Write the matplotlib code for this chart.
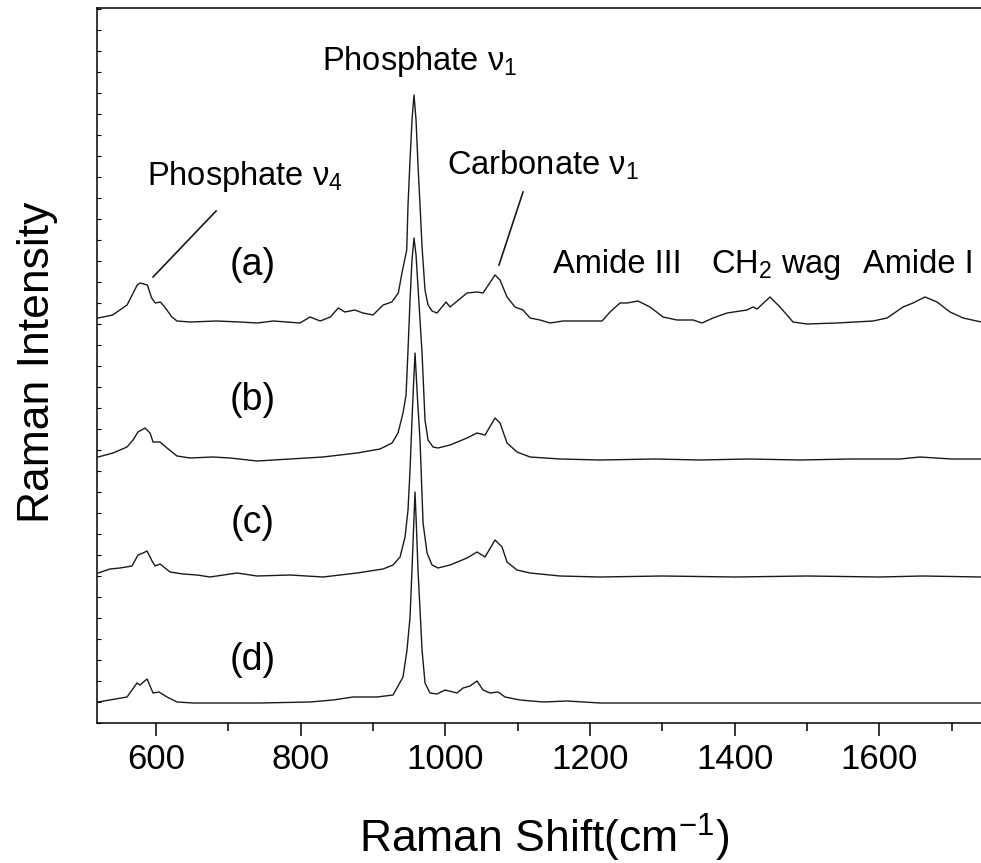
import matplotlib
matplotlib.use("Agg")
import matplotlib.pyplot as plt
from matplotlib.ticker import MultipleLocator

plt.rcParams['font.family'] = ['Liberation Sans', 'DejaVu Sans']
plt.rcParams['mathtext.fontset'] = 'custom'
plt.rcParams['mathtext.rm'] = 'Liberation Sans'
plt.rcParams['mathtext.it'] = 'Liberation Sans:italic'
plt.rcParams['mathtext.default'] = 'regular'

# ---------------- data ----------------
a_wn = [520, 540, 560, 574, 578, 588, 594, 599, 606, 612, 622, 629, 647, 684, 716, 740, 762, 799, 813, 827,
        841, 852, 861, 875, 886, 900, 914, 926, 935, 940, 946.6, 948.4, 951.2, 953.9, 956.7, 959.5, 962.2, 965.0,
        967.8, 971.9, 976.1, 981.6, 988.5, 1001, 1006.5, 1030, 1043.8, 1052.1, 1068.7, 1075.6, 1085.3, 1096.3,
        1107.4, 1117.1, 1130.9, 1144.7, 1162.7, 1195.9, 1216.6, 1227.7, 1241.5, 1251.2, 1266.4, 1283.0, 1301.0,
        1320.3, 1342.5, 1354.9, 1370.1, 1389.5, 1417.1, 1425.4, 1431.0, 1448.9, 1462.7, 1480.7, 1500.1, 1541.5,
        1591.3, 1610.7, 1632.8, 1646.6, 1663.2, 1679.8, 1697.8, 1715.8, 1741]
a_int = [5, 8, 18, 38, 40, 38, 25, 20, 21, 16, 6, 2, 1, 2, 1, 0, 2, 0, 6, 2,
         6, 15, 11, 13, 10, 8, 18, 21, 30, 50, 73, 118, 163, 203, 228, 203, 158, 118,
         76, 33, 18, 12, 10, 21, 16, 30, 31, 30, 48, 43, 26, 16,
         13, 5, 3, 0, 2, 2, 2, 11, 20, 20, 22, 16, 6,
         3, 3, 0, 5, 10, 13, 16, 14, 26, 16, 1, -1, 0,
         2, 5, 16, 20, 26, 21, 11, 5, 1]

b_wn = [520, 540.5, 559.9, 568.2, 575.1, 584.8, 591.7, 595.9, 605.5, 615.2, 629, 647, 678.8, 702.3, 739.6,
        785.3, 830.9, 877.9, 909.7, 926.3, 934.6, 941.5, 945.7, 948.4, 951.2, 953.9, 956.7, 959.5, 962.2, 967.8,
        971.9, 976.1, 983.0, 989.9, 1006.5, 1030.0, 1043.8, 1054.9, 1068.7, 1075.6, 1085.3, 1099.1, 1117.1,
        1158.6, 1213.9, 1290, 1352.1, 1420, 1490.4, 1560, 1628.7, 1656.3, 1700, 1741]
b_int = [3, 7, 13, 20, 28, 32, 27, 18, 18, 12, 4, 2, 3, 2, -1,
         1, 3, 7, 11, 17, 27, 47, 65, 110, 160, 200, 222, 205, 173, 107,
         40, 20, 13, 12, 15, 22, 27, 25, 42, 37, 17, 8, 3,
         1, 0, 1, 0, 1, 0, 1, 1, 3, 1, 1]

c_wn = [520, 536.4, 550.2, 566.8, 575.1, 582.0, 587.6, 594.5, 598.6, 605.5, 619.4, 637.3, 656.7, 674.7, 712.0,
        739.6, 785.3, 830.9, 877.9, 913.9, 927.7, 937.4, 944.3, 948.4, 951.2, 953.9, 956.0, 958.1, 961.6, 965.0,
        969.2, 974.7, 981.6, 989.9, 1006.5, 1030.0, 1043.8, 1054.9, 1068.7, 1078.4, 1085.3, 1099.1, 1117.1,
        1158.6, 1213.9, 1300, 1400, 1500, 1600, 1660, 1741]
c_int = [4, 8, 9, 11, 22, 24, 26, 16, 11, 13, 5, 3, 2, 0, 4,
         1, 2, 0, 4, 8, 12, 20, 40, 67, 107, 157, 192, 224, 177, 137,
         54, 24, 12, 9, 12, 19, 25, 20, 37, 30, 15, 7, 4,
         1, 0, 1, 0, 1, 0, 1, 0]

d_wn = [520, 559.9, 573.7, 577.9, 587.6, 595.9, 604.1, 615.2, 629.0, 651.2, 743.8, 812.9, 844.7, 872.4, 905.6,
        927.7, 941.5, 947.0, 951.2, 953.9, 956.0, 958.1, 960.2, 962.2, 965.0, 967.8, 971.9, 978.8, 988.5, 999.6,
        1016.2, 1024.5, 1034.1, 1043.8, 1052.1, 1061.8, 1072.9, 1082.5, 1103.3, 1135.1, 1168.3, 1213.9, 1400,
        1600, 1741]
d_int = [1, 6, 20, 18, 24, 10, 11, 6, 1, 0, 0, 1, 3, 6, 6,
         8, 26, 53, 86, 133, 173, 211, 173, 133, 93, 53, 20, 10, 9, 13,
         10, 15, 17, 22, 13, 10, 11, 6, 3, 1, 2, 0, 0,
         0, 0]

spectra = [(a_wn, a_int), (b_wn, b_int), (c_wn, c_int), (d_wn, d_int)]
offsets = [400, 263, 146, 20]
sample_labels = ['(a)', '(b)', '(c)', '(d)']
label_y = [458, 323, 200, 63]

x_ticks = [600, 800, 1000, 1200, 1400, 1600]

# ---------------- figure ----------------
fig = plt.figure(figsize=(9.81, 8.63), dpi=100)
ax = fig.add_axes([97 / 981, 140 / 863, 884 / 981, 715 / 863])

for (wn, inten), off in zip(spectra, offsets):
    ax.plot(wn, [v + off for v in inten], color='#1a1a1a', lw=1.0)

for lab, ly in zip(sample_labels, label_y):
    ax.text(733, ly, lab, fontsize=27, ha='center', va='center')

ann_fs = 23.5
ax.text(829.5, 653, 'Phosphate ν$_1$', fontsize=ann_fs, ha='left', va='baseline')
ax.text(587.6, 538, 'Phosphate ν$_4$', fontsize=ann_fs, ha='left', va='baseline')
ax.text(1002.3, 548, 'Carbonate ν$_1$', fontsize=ann_fs, ha='left', va='baseline')
ax.text(1149, 450, 'Amide III', fontsize=ann_fs, ha='left', va='baseline')
ax.text(1367, 450, 'CH$_2$ wag', fontsize=ann_fs, ha='left', va='baseline')
ax.text(1577.5, 450, 'Amide I', fontsize=ann_fs, ha='left', va='baseline')

ax.plot([595.9, 683.0], [446, 512], color='#1a1a1a', lw=1.2)
ax.plot([1074.2, 1107.4], [458, 531], color='#1a1a1a', lw=1.2)

ax.set_xlim(518.4, 1740.6)
ax.set_ylim(0, 715)
ax.set_xticks(x_ticks)
ax.xaxis.set_minor_locator(MultipleLocator(100))
ax.yaxis.set_major_locator(MultipleLocator(21))
ax.set_yticklabels([])
ax.tick_params(axis='x', which='major', direction='out', length=9.5, width=1.1,
               labelsize=25, pad=5)
ax.tick_params(axis='x', which='minor', direction='out', length=6, width=1.1)
ax.tick_params(axis='y', which='major', direction='in', length=3, width=0.8, labelleft=False)

for s in ['left', 'bottom', 'top']:
    ax.spines[s].set_linewidth(1.1)
ax.spines['right'].set_visible(False)

ax.set_xlabel('Raman Shift(cm$^{-1}$)', fontsize=32)
ax.xaxis.set_label_coords((544 - 97) / 884, (723 - 853) / 715)
ax.xaxis.label.set_va('baseline')
ax.set_ylabel('Raman Intensity', fontsize=32)
ax.yaxis.set_label_coords((38 - 97) / 884, (723 - 362) / 715)
ax.yaxis.label.set_va('center')

fig.savefig('out.png', dpi=100)
